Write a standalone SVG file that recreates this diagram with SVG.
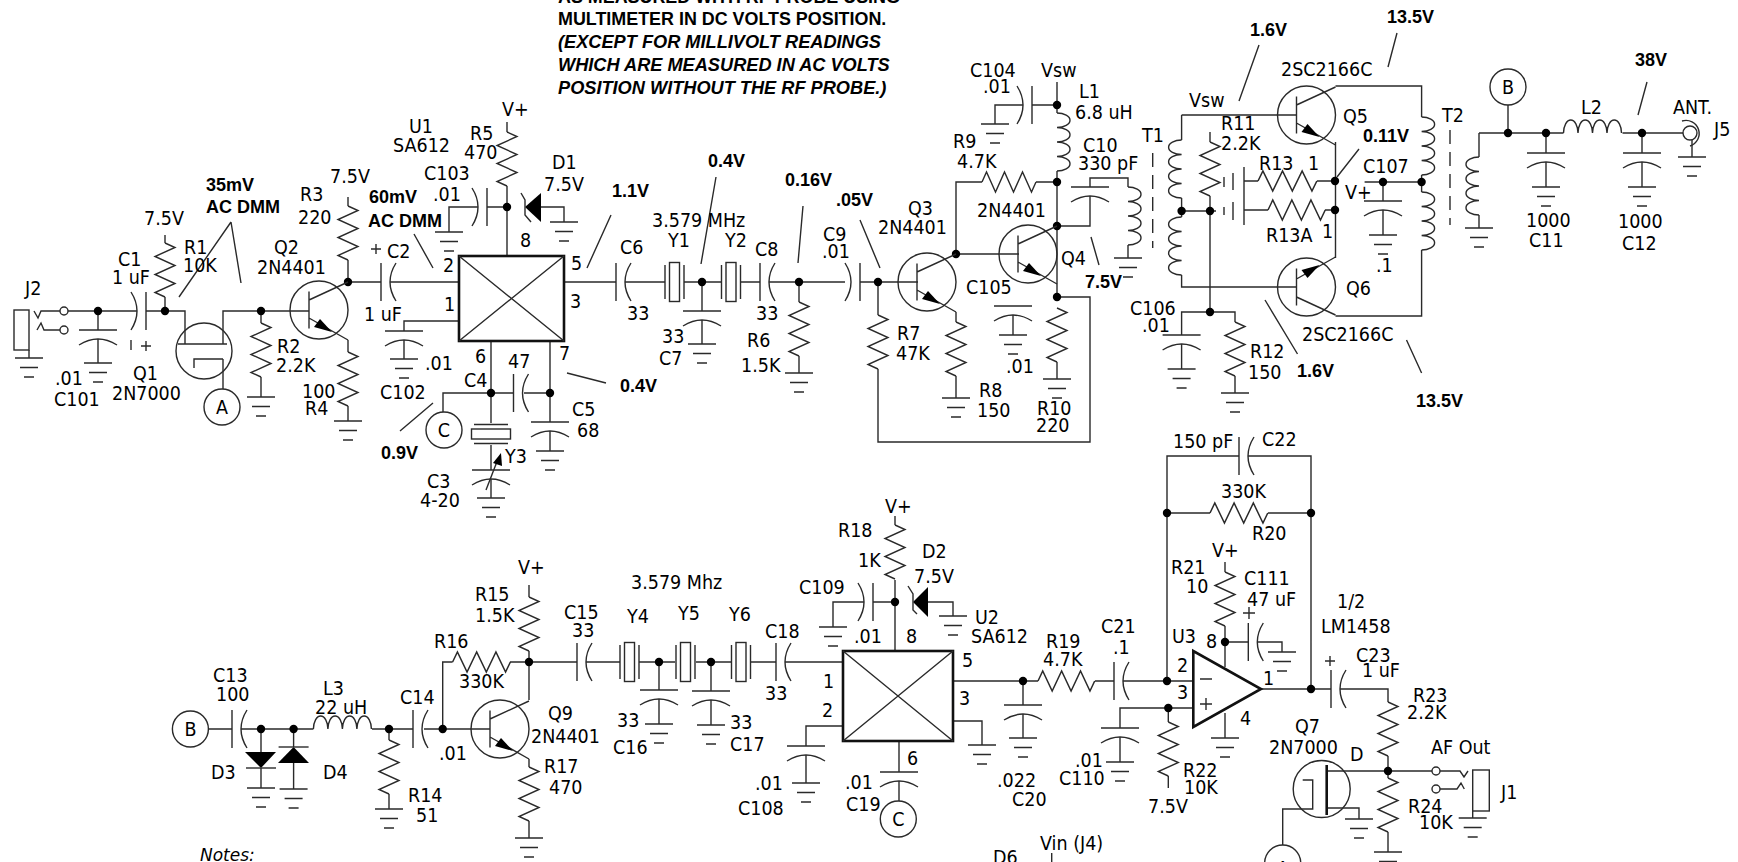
<svg xmlns="http://www.w3.org/2000/svg" width="1738" height="862" viewBox="0 0 1738 862">
<style>
.s{fill:none;stroke:#2a2a2a;stroke-width:1.4}
.k{fill:none;stroke:#111;stroke-width:2.6}
.f{fill:#000;stroke:none}
text{fill:#000;stroke:none}
.t{font-family:"DejaVu Sans Condensed","DejaVu Sans",sans-serif;font-size:19.5px}
.b{font-family:"Liberation Sans",Arial,sans-serif;font-size:18px;font-weight:bold}
.n{font-family:"Liberation Sans",Arial,sans-serif;font-size:17.9px;font-weight:bold}
.i{font-family:"Liberation Sans",Arial,sans-serif;font-size:18.2px;font-weight:bold;font-style:italic}
.m{font-family:"DejaVu Sans Condensed","DejaVu Sans",sans-serif;font-size:19.5px;text-anchor:middle}
.o{font-family:"DejaVu Sans",sans-serif;font-size:17px;font-style:italic}
</style>
<defs>
<path id="g" class="s" d="M-14,0H14M-9,9.5H9M-5,19H5"/>
<path id="c" class="s" d="M-19,0H19M-19,15Q0,3 19,15"/>
<path id="r" class="s" d="M0,0L4.5,-10L13.5,10L22.5,-10L31.5,10L40.5,-10L49.5,10L54,0"/>
<path id="l" class="s" d="M0,0a13,7.25 0 0 1 0,14.5a13,7.25 0 0 1 0,14.5a13,7.25 0 0 1 0,14.5a13,7.25 0 0 1 0,14.5"/>
<circle id="d" class="f" r="4.2"/>
<g id="y"><rect class="s" x="-5" y="-19.5" width="10" height="39"/><path class="s" d="M-9.5,-17V17M9.5,-17V17"/></g>
<g id="q"><circle class="s" r="29"/><path class="s" d="M-10,-18.5V18.5M-10,-10L29,-28M-10,8L29,30"/><path class="f" d="M13,22L-5,17L1,9Z"/></g>
</defs>

<g id="connectors" class="s">
<path d="M60,311H41L38,318L34,311M60,330H44L41,323L37,330M68,311H137M146,311H185V344M98,311V330M98,339V363M165,311V297M165,243V235M223,344V311H309M223,359V389M261,311V323M261,377V397M348,282V260M348,206V197M348,340V352M348,406V421M348,282H381M390,282H459M507,256V186M507,132V122M507,207H487M478,207H449V232M541,207H564V222M459,321H404V331M404,340V359M491,341V393H513.5M524,393H550M550,341V422M550,431V451M491,393H443V412M491,393V423M491,445V470M491,479V498"/>
<path d="M564,282H616M625,282H665M684,282H721M741,282H760M769,282H845M860,282H918M702,282V311M702,320V344M799,282V302M799,356V373M878,282V315M878,369V442H1090V297H1057M956,312V322M956,376V398M956,254H1019M956,254V182H982M1036,182H1057M1057,82V113M1057,171V297M1057,105H1032M1023,105H995V124M1057,226H1090V196M1090,187V178H1128V187M1128,245V258"/>
<path d="M1181.6,115H1297M1181.6,115V140M1181.6,198V217M1181.6,275V287H1297M1181.6,211H1216M1210,132V142M1210,196V312M1210,312H1181.6V335M1181.6,344V369M1210,312H1235V322M1235,376V393M1244,181H1258M1317,181H1335M1244,210H1268M1325,210H1335M1335.5,86H1421.6V117M1335.5,142V258M1335.5,316H1421.6V250M1421.6,175V192M1364.6,182H1421.6M1383,182V201M1383,210V235M1479,133H1508M1479,133V157M1479,215V228M1508,105V133H1563.5M1622.5,133H1683M1546,133V153M1546,162V187M1642,133V153M1642,162V187M1692,140V157"/>
<path d="M208,729H232M241,729H313.4M372,729H413M424,729H490M261,729V752M261,768V788M293.6,729V747M293.6,763V789M389,729V740M389,794V809M442.7,729V662H452.6M510,662H529M529,585V597M529,651V700M529,759V767M529,821V838M529,662H577M586,662H620M639,662H675M696,662H731M751,662H776M785,662H842M659,662V690M659,699V724M711,662V691M711,700V725"/>
<path d="M895,651V580M895,516V525M895,602H873M864,602H833V627M928,602H953V616M843,726H806V746M806,755V783M899,741V772M899,781V801M953,721H982V745M953,681H1038M1095,681H1114M1123,681H1193M1023,681V705M1023,714V738M1167,681V456H1239M1248,456H1311V689M1167,513H1210M1268,513H1311M1168.3,708H1193M1168.3,708H1120V728M1120,737V762M1168.3,708V722M1168.3,776V788M1225,562V572M1225,626V667M1225,642H1248.3M1258,642H1282V652M1225,713V738M1261,689H1331M1340,689H1388V702M1388,756V778M1388,832V852M1326.7,771H1432M1440,771H1460L1464,777L1468,771M1440,789H1457L1461,783L1464.3,789M1326.7,808H1359V819M1282.7,845V809H1312.7V780H1302.7M1472.7,811V818M1051.7,853V862"/>
</g>

<g id="leaders" class="s">
<path d="M231,222L179,297M231,222L241,283M414,234L433,268M433,403L400,431M567,373L606,383M611,215L587,268M716,177L701,264M803,206L798,263M860,220L880,268M1091,237L1099,265M1259,45L1239,101M1397,33L1388,67M1359,149L1337,177M1265,300L1297.5,354M1406.5,340L1421.6,373M1647,82L1638,115"/>
</g>

<g id="dots">
<use href="#d" x="98" y="311"/><use href="#d" x="165" y="311"/><use href="#d" x="261" y="311"/><use href="#d" x="348" y="282"/><use href="#d" x="507" y="207"/><use href="#d" x="491" y="393"/><use href="#d" x="550" y="393"/><use href="#d" x="702" y="282"/><use href="#d" x="799" y="282"/><use href="#d" x="878" y="282"/><use href="#d" x="956" y="254"/><use href="#d" x="1057" y="105"/><use href="#d" x="1057" y="182"/><use href="#d" x="1057" y="226"/><use href="#d" x="1057" y="297"/><use href="#d" x="1181.6" y="211"/><use href="#d" x="1210" y="211"/><use href="#d" x="1210" y="312"/><use href="#d" x="1335" y="181"/><use href="#d" x="1335" y="210"/><use href="#d" x="1383" y="182"/><use href="#d" x="1421.6" y="182"/><use href="#d" x="1508" y="133"/><use href="#d" x="1546" y="133"/><use href="#d" x="1642" y="133"/>
<use href="#d" x="261" y="729"/><use href="#d" x="293.6" y="729"/><use href="#d" x="389" y="729"/><use href="#d" x="442.7" y="729"/><use href="#d" x="529" y="662"/><use href="#d" x="659" y="662"/><use href="#d" x="711" y="662"/><use href="#d" x="895" y="602"/><use href="#d" x="1023" y="681"/><use href="#d" x="1167" y="681"/><use href="#d" x="1167" y="513"/><use href="#d" x="1311" y="513"/><use href="#d" x="1168.3" y="708"/><use href="#d" x="1225" y="642"/><use href="#d" x="1311" y="689"/><use href="#d" x="1388" y="771"/>
</g>

<g id="J2"><rect class="s" x="14" y="310" width="15" height="40"/><path class="s" d="M29,350V358"/><use href="#g" x="29" y="358"/><circle class="s" cx="64" cy="311" r="4"/><circle class="s" cx="64" cy="330" r="4"/><text class="t" x="25" y="295">J2</text></g>
<g id="C101"><use href="#c" x="98" y="330"/><use href="#g" x="98" y="363"/><text class="t" x="55" y="385">.01</text><text class="t" x="54" y="406">C101</text></g>
<g id="C1"><use href="#c" transform="translate(146,311) rotate(90)"/><path class="s" d="M131,340V350M146,341V351M141,346H151"/><text class="t" x="118" y="266">C1</text><text class="t" x="112" y="284">1 uF</text></g>
<g id="R1"><use href="#r" transform="translate(165,243) rotate(90)"/><text class="t" x="144" y="225">7.5V</text><text class="t" x="184" y="254">R1</text><text class="t" x="183" y="272">10K</text></g>
<g id="Q1"><circle class="s" cx="204" cy="351" r="28"/><path class="s" d="M178,344H227M194,368V359H223"/><text class="t" x="133" y="380">Q1</text><text class="t" x="112" y="400">2N7000</text></g>
<g id="A1"><circle class="s" cx="222" cy="407" r="18"/><text class="m" x="222" y="414">A</text></g>
<g id="R2"><use href="#r" transform="translate(261,323) rotate(90)"/><use href="#g" x="261" y="397"/><text class="t" x="277" y="353">R2</text><text class="t" x="276" y="372">2.2K</text></g>
<g id="Q2"><use href="#q" x="319" y="310"/><text class="t" x="274" y="254">Q2</text><text class="t" x="257" y="274">2N4401</text></g>
<g id="R3"><use href="#r" transform="translate(348,206) rotate(90)"/><text class="t" x="300" y="201">R3</text><text class="t" x="298" y="224">220</text><text class="t" x="330" y="183">7.5V</text></g>
<g id="R4"><use href="#r" transform="translate(348,352) rotate(90)"/><use href="#g" x="348" y="421"/><text class="t" x="302" y="398">100</text><text class="t" x="305" y="415">R4</text></g>
<g id="C2"><use href="#c" transform="translate(381,282) rotate(-90)"/><path class="s" d="M371,249H381M376,244V254"/><text class="t" x="387" y="258">C2</text><text class="t" x="364" y="321">1 uF</text></g>
<g id="U1"><rect class="k" x="459" y="256" width="105" height="85"/><path class="s" d="M459,256L564,341M564,256L459,341"/><text class="t" x="409" y="133">U1</text><text class="t" x="393" y="152">SA612</text><text class="t" x="520" y="247">8</text><text class="t" x="443" y="272">2</text><text class="t" x="444" y="311">1</text><text class="t" x="475" y="363">6</text><text class="t" x="559" y="360">7</text><text class="t" x="571" y="270">5</text><text class="t" x="570" y="308">3</text></g>
<g id="R5"><use href="#r" transform="translate(507,132) rotate(90)"/><text class="t" x="470" y="140">R5</text><text class="t" x="464" y="159">470</text><text class="t" x="502" y="116">V+</text></g>
<g id="D1"><path class="f" d="M525,207L541,193V222Z"/><path class="s" d="M521,193L525,200V215L531,222"/><use href="#g" x="564" y="222"/><text class="t" x="552" y="169">D1</text><text class="t" x="544" y="191">7.5V</text></g>
<g id="C103"><use href="#c" transform="translate(487,207) rotate(90)"/><use href="#g" x="449" y="232"/><text class="t" x="424" y="180">C103</text><text class="t" x="433" y="201">.01</text></g>
<g id="C102"><use href="#c" x="404" y="331"/><use href="#g" x="404" y="359"/><text class="t" x="425" y="370">.01</text><text class="t" x="380" y="399">C102</text></g>
<g id="C4"><use href="#c" transform="translate(513.5,393) rotate(-90)"/><text class="t" x="464" y="387">C4</text><text class="t" x="508" y="368">47</text></g>
<g id="C1node"><circle class="s" cx="444" cy="430" r="18"/><text class="m" x="444" y="437">C</text></g>
<g id="C5"><use href="#c" x="550" y="422"/><use href="#g" x="550" y="451"/><text class="t" x="572" y="416">C5</text><text class="t" x="577" y="437">68</text></g>
<g id="Y3"><use href="#y" transform="translate(491,434) rotate(90)"/><text class="t" x="505" y="463">Y3</text></g>
<g id="C3"><use href="#c" x="491" y="470"/><use href="#g" x="491" y="498"/><path class="s" d="M486,490L498,459"/><path class="f" d="M501,453L502,466L493,463Z"/><text class="t" x="427" y="488">C3</text><text class="t" x="420" y="507">4-20</text></g>
<g id="C6"><use href="#c" transform="translate(616,282) rotate(-90)"/><text class="t" x="620" y="254">C6</text><text class="t" x="627" y="320">33</text></g>
<g id="Y1"><use href="#y" x="674.5" y="282"/><text class="t" x="668" y="247">Y1</text><text class="t" x="652" y="227">3.579 MHz</text></g>
<g id="Y2"><use href="#y" x="731" y="282"/><text class="t" x="725" y="247">Y2</text></g>
<g id="C7"><use href="#c" x="702" y="311"/><use href="#g" x="702" y="344"/><text class="t" x="662" y="343">33</text><text class="t" x="659" y="365">C7</text></g>
<g id="C8"><use href="#c" transform="translate(760,282) rotate(-90)"/><text class="t" x="755" y="256">C8</text><text class="t" x="756" y="320">33</text></g>
<g id="R6"><use href="#r" transform="translate(799,302) rotate(90)"/><use href="#g" x="799" y="373"/><text class="t" x="747" y="347">R6</text><text class="t" x="741" y="372">1.5K</text></g>
<g id="C9"><use href="#c" transform="translate(860,282) rotate(90)"/><text class="t" x="823" y="241">C9</text><text class="t" x="822" y="258">.01</text></g>
<g id="Q3"><use href="#q" x="927" y="282"/><text class="t" x="908" y="215">Q3</text><text class="t" x="878" y="234">2N4401</text></g>
<g id="R7"><use href="#r" transform="translate(878,315) rotate(90)"/><text class="t" x="897" y="340">R7</text><text class="t" x="896" y="360">47K</text></g>
<g id="R8"><use href="#r" transform="translate(956,322) rotate(90)"/><use href="#g" x="956" y="398"/><text class="t" x="979" y="397">R8</text><text class="t" x="977" y="417">150</text></g>
<g id="R9"><use href="#r" x="982" y="182"/><text class="t" x="953" y="148">R9</text><text class="t" x="957" y="168">4.7K</text></g>
<g id="Q4"><use href="#q" x="1028" y="254"/><text class="t" x="977" y="217">2N4401</text><text class="t" x="1061" y="265">Q4</text></g>
<g id="C104"><use href="#c" transform="translate(1032,105) rotate(90)"/><use href="#g" x="995" y="124"/><text class="t" x="970" y="77">C104</text><text class="t" x="983" y="93">.01</text><text class="t" x="1041" y="77">Vsw</text></g>
<g id="L1"><use href="#l" x="1057" y="113"/><text class="t" x="1079" y="98">L1</text><text class="t" x="1075" y="119">6.8 uH</text></g>
<g id="C10"><use href="#c" x="1090" y="187"/><text class="t" x="1083" y="152">C10</text><text class="t" x="1078" y="170">330 pF</text></g>
<g id="C105"><use href="#c" x="1013" y="306"/><path class="s" d="M1013,315V335"/><use href="#g" x="1013" y="335"/><text class="t" x="966" y="294">C105</text><text class="t" x="1006" y="373">.01</text></g>
<g id="R10"><use href="#r" transform="translate(1057,308) rotate(90)"/><path class="s" d="M1057,362V379"/><use href="#g" x="1057" y="379"/><text class="t" x="1037" y="415">R10</text><text class="t" x="1036" y="432">220</text></g>
<g id="T1"><use href="#l" x="1128" y="187"/><use href="#g" x="1128" y="258"/><path class="s" stroke-dasharray="14 8" d="M1152.7,153V248"/><use href="#l" transform="translate(1181.6,140) scale(-1,1)"/><use href="#l" transform="translate(1181.6,217) scale(-1,1)"/><text class="t" x="1142" y="142">T1</text></g>
<g id="R11"><use href="#r" transform="translate(1210,142) rotate(90)"/><text class="t" x="1221" y="130">R11</text><text class="t" x="1221" y="150">2.2K</text><text class="t" x="1189" y="107">Vsw</text></g>
<g id="C13x"><path class="s" d="M1244,167V225M1233,173V190M1224,177V187M1233,202V220M1224,207V215"/></g>
<g id="R13"><use href="#r" transform="translate(1258,181) scale(1.09,1)"/><text class="t" x="1259" y="170">R13</text><text class="t" x="1308" y="170">1</text></g>
<g id="R13A"><use href="#r" transform="translate(1268,210) scale(1.06,1)"/><text class="t" x="1266" y="242">R13A</text><text class="t" x="1322" y="238">1</text></g>
<g id="Q5"><use href="#q" x="1306.5" y="115"/><text class="t" x="1343" y="123">Q5</text><text class="t" x="1281" y="76">2SC2166C</text></g>
<g id="Q6"><use href="#q" transform="translate(1306.5,287) scale(1,-1)"/><text class="t" x="1346" y="295">Q6</text><text class="t" x="1302" y="341">2SC2166C</text></g>
<g id="C106"><use href="#c" x="1181.6" y="335"/><use href="#g" x="1181.6" y="369"/><text class="t" x="1130" y="315">C106</text><text class="t" x="1142" y="332">.01</text></g>
<g id="R12"><use href="#r" transform="translate(1235,322) rotate(90)"/><use href="#g" x="1235" y="393"/><text class="t" x="1250" y="358">R12</text><text class="t" x="1248" y="379">150</text></g>
<g id="C107"><use href="#c" x="1383" y="201"/><use href="#g" x="1383" y="235"/><text class="t" x="1363" y="173">C107</text><text class="t" x="1345" y="199">V+</text><text class="t" x="1376" y="272">.1</text></g>
<g id="T2"><use href="#l" x="1421.6" y="117"/><use href="#l" x="1421.6" y="192"/><path class="s" stroke-dasharray="14 8" d="M1450,130V225"/><use href="#l" transform="translate(1479,157) scale(-1,1)"/><use href="#g" x="1479" y="228"/><text class="t" x="1442" y="122">T2</text></g>
<g id="B1"><circle class="s" cx="1508" cy="87" r="18"/><text class="m" x="1508" y="94">B</text></g>
<g id="C11"><use href="#c" x="1546" y="153"/><use href="#g" x="1546" y="187"/><text class="t" x="1526" y="227">1000</text><text class="t" x="1529" y="247">C11</text></g>
<g id="L2"><use href="#l" transform="translate(1563.5,133) rotate(-90)"/><text class="t" x="1581" y="114">L2</text></g>
<g id="C12"><use href="#c" x="1642" y="153"/><use href="#g" x="1642" y="187"/><text class="t" x="1618" y="228">1000</text><text class="t" x="1622" y="250">C12</text></g>
<g id="J5"><circle class="s" cx="1690" cy="133" r="7"/><path class="s" d="M1682,121A13,13 0 1 1 1690,146"/><use href="#g" x="1692" y="157"/><text class="t" x="1673" y="114">ANT.</text><text class="t" x="1714" y="136">J5</text></g>

<g id="note-top">
<text class="n" x="558" y="3">AS MEASURED WITH RF PROBE USING</text>
<text class="n" x="558" y="25">MULTIMETER IN DC VOLTS POSITION.</text>
<text class="i" x="558" y="48">(EXCEPT FOR MILLIVOLT READINGS</text>
<text class="i" x="558" y="71">WHICH ARE MEASURED IN AC VOLTS</text>
<text class="i" x="558" y="94">POSITION WITHOUT THE RF PROBE.)</text>
</g>
<g id="voltages">
<text class="b" x="206" y="191">35mV</text><text class="b" x="206" y="213">AC DMM</text><text class="b" x="369" y="203">60mV</text><text class="b" x="368" y="227">AC DMM</text><text class="b" x="381" y="459">0.9V</text><text class="b" x="620" y="392">0.4V</text><text class="b" x="612" y="197">1.1V</text><text class="b" x="708" y="167">0.4V</text><text class="b" x="785" y="186">0.16V</text><text class="b" x="836" y="206">.05V</text><text class="b" x="1085" y="288">7.5V</text><text class="b" x="1250" y="36">1.6V</text><text class="b" x="1387" y="23">13.5V</text><text class="b" x="1363" y="142">0.11V</text><text class="b" x="1297" y="377">1.6V</text><text class="b" x="1416" y="407">13.5V</text><text class="b" x="1635" y="66">38V</text>
</g>

<g id="B2"><circle class="s" cx="190.4" cy="729" r="18"/><text class="m" x="190.4" y="736">B</text></g>
<g id="C13"><use href="#c" transform="translate(232,729) rotate(-90)"/><text class="t" x="213" y="682">C13</text><text class="t" x="216" y="701">100</text></g>
<g id="D3"><path class="f" d="M245,752H276L261,768Z"/><path class="s" d="M246,768H276"/><use href="#g" x="261" y="788"/><text class="t" x="211" y="779">D3</text></g>
<g id="D4"><path class="f" d="M278,763H309L293.6,747Z"/><path class="s" d="M278.6,747H308.6"/><use href="#g" x="293.6" y="789"/><text class="t" x="323" y="779">D4</text></g>
<g id="L3"><use href="#l" transform="translate(313.4,729) rotate(-90)"/><text class="t" x="323" y="695">L3</text><text class="t" x="315" y="714">22 uH</text></g>
<g id="R14"><use href="#r" transform="translate(389,740) rotate(90)"/><use href="#g" x="389" y="809"/><text class="t" x="408" y="802">R14</text><text class="t" x="416" y="822">51</text></g>
<g id="C14"><use href="#c" transform="translate(413,729) rotate(-90)"/><text class="t" x="400" y="704">C14</text><text class="t" x="439" y="760">.01</text></g>
<g id="Q9"><use href="#q" x="500" y="729"/><text class="t" x="548" y="720">Q9</text><text class="t" x="531" y="743">2N4401</text></g>
<g id="R15"><use href="#r" transform="translate(529,597) rotate(90)"/><text class="t" x="518" y="574">V+</text><text class="t" x="475" y="601">R15</text><text class="t" x="475" y="622">1.5K</text></g>
<g id="R16"><use href="#r" transform="translate(452.6,662) scale(1.07,1)"/><text class="t" x="434" y="648">R16</text><text class="t" x="459" y="688">330K</text></g>
<g id="R17"><use href="#r" transform="translate(529,767) rotate(90)"/><use href="#g" x="529" y="838"/><text class="t" x="544" y="773">R17</text><text class="t" x="549" y="794">470</text></g>
<g id="C15"><use href="#c" transform="translate(577,662) rotate(-90)"/><text class="t" x="564" y="619">C15</text><text class="t" x="572" y="637">33</text></g>
<g id="Y4"><use href="#y" x="629.5" y="662"/><text class="t" x="627" y="623">Y4</text><text class="t" x="631" y="589">3.579 Mhz</text></g>
<g id="Y5"><use href="#y" x="685.5" y="662"/><text class="t" x="678" y="620">Y5</text></g>
<g id="Y6"><use href="#y" x="741" y="662"/><text class="t" x="729" y="621">Y6</text></g>
<g id="C16"><use href="#c" x="659" y="690"/><use href="#g" x="659" y="724"/><text class="t" x="617" y="727">33</text><text class="t" x="613" y="754">C16</text></g>
<g id="C17"><use href="#c" x="711" y="691"/><use href="#g" x="711" y="725"/><text class="t" x="730" y="729">33</text><text class="t" x="730" y="751">C17</text></g>
<g id="C18"><use href="#c" transform="translate(776,662) rotate(-90)"/><text class="t" x="765" y="638">C18</text><text class="t" x="765" y="700">33</text></g>
<g id="U2"><rect class="k" x="843" y="651" width="110" height="90"/><path class="s" d="M843,651L953,741M953,651L843,741"/><text class="t" x="975" y="624">U2</text><text class="t" x="971" y="643">SA612</text><text class="t" x="906" y="643">8</text><text class="t" x="823" y="688">1</text><text class="t" x="822" y="717">2</text><text class="t" x="962" y="667">5</text><text class="t" x="959" y="705">3</text><text class="t" x="907" y="765">6</text><use href="#g" x="982" y="745"/></g>
<g id="R18"><use href="#r" transform="translate(895,525) rotate(90)"/><text class="t" x="885" y="513">V+</text><text class="t" x="838" y="537">R18</text><text class="t" x="858" y="567">1K</text></g>
<g id="D2"><path class="f" d="M913,602L928,587V617Z"/><path class="s" d="M908,586L913,594V610L917,614"/><use href="#g" x="953" y="616"/><text class="t" x="922" y="558">D2</text><text class="t" x="914" y="583">7.5V</text></g>
<g id="C109"><use href="#c" transform="translate(873,602) rotate(90)"/><use href="#g" x="833" y="627"/><text class="t" x="799" y="594">C109</text><text class="t" x="854" y="643">.01</text></g>
<g id="C108"><use href="#c" x="806" y="746"/><use href="#g" x="806" y="783"/><text class="t" x="755" y="790">.01</text><text class="t" x="738" y="815">C108</text></g>
<g id="C19"><use href="#c" x="899" y="772"/><text class="t" x="845" y="789">.01</text><text class="t" x="846" y="811">C19</text></g>
<g id="C2node"><circle class="s" cx="898.3" cy="819" r="18"/><text class="m" x="898.3" y="826">C</text></g>
<g id="R19"><use href="#r" transform="translate(1038,681) scale(1.05,1)"/><text class="t" x="1046" y="648">R19</text><text class="t" x="1043" y="666">4.7K</text></g>
<g id="C20"><use href="#c" x="1023" y="705"/><use href="#g" x="1023" y="738"/><text class="t" x="997" y="787">.022</text><text class="t" x="1012" y="806">C20</text></g>
<g id="C21"><use href="#c" transform="translate(1114,681) rotate(-90)"/><text class="t" x="1101" y="633">C21</text><text class="t" x="1113" y="654">.1</text></g>
<g id="C110"><use href="#c" x="1120" y="728"/><use href="#g" x="1120" y="762"/><text class="t" x="1075" y="767">.01</text><text class="t" x="1059" y="785">C110</text></g>
<g id="R22"><use href="#r" transform="translate(1168.3,722) rotate(90)"/><text class="t" x="1183" y="777">R22</text><text class="t" x="1184" y="794">10K</text><text class="t" x="1148" y="813">7.5V</text></g>
<g id="U3"><path class="k" d="M1193.3,651V727L1261,689Z"/><path class="s" d="M1200,679H1212M1200,704H1212M1206,698V710"/><use href="#g" x="1225" y="738"/><text class="t" x="1172" y="643">U3</text><text class="t" x="1177" y="672">2</text><text class="t" x="1177" y="699">3</text><text class="t" x="1206" y="648">8</text><text class="t" x="1263" y="685">1</text><text class="t" x="1240" y="725">4</text><text class="t" x="1337" y="608">1/2</text><text class="t" x="1321" y="633">LM1458</text></g>
<g id="C22"><use href="#c" transform="translate(1239,456) rotate(-90)"/><text class="t" x="1173" y="448">150 pF</text><text class="t" x="1262" y="446">C22</text></g>
<g id="R20"><use href="#r" transform="translate(1210,513) scale(1.07,1)"/><text class="t" x="1221" y="498">330K</text><text class="t" x="1252" y="540">R20</text></g>
<g id="R21"><use href="#r" transform="translate(1225,572) rotate(90)"/><text class="t" x="1212" y="557">V+</text><text class="t" x="1171" y="574">R21</text><text class="t" x="1186" y="593">10</text></g>
<g id="C111"><use href="#c" transform="translate(1248.3,642) rotate(-90)"/><path class="s" d="M1243,613H1255M1249,607V619"/><use href="#g" x="1282" y="652"/><text class="t" x="1244" y="585">C111</text><text class="t" x="1247" y="606">47 uF</text></g>
<g id="C23"><use href="#c" transform="translate(1331,689) rotate(-90)"/><path class="s" d="M1325,661H1335M1330,656V666"/><text class="t" x="1356" y="662">C23</text><text class="t" x="1362" y="677">1 uF</text></g>
<g id="R23"><use href="#r" transform="translate(1388,702) rotate(90)"/><text class="t" x="1413" y="702">R23</text><text class="t" x="1407" y="719">2.2K</text></g>
<g id="R24"><use href="#r" transform="translate(1388,778) rotate(90)"/><use href="#g" x="1388" y="852"/><text class="t" x="1408" y="813">R24</text><text class="t" x="1419" y="829">10K</text></g>
<g id="Q7"><circle class="s" cx="1321.7" cy="789" r="28.5"/><path class="k" d="M1326.7,765V815"/><use href="#g" x="1359" y="819"/><text class="t" x="1295" y="733">Q7</text><text class="t" x="1269" y="754">2N7000</text><text class="t" x="1350" y="761">D</text></g>
<g id="A2"><circle class="s" cx="1282.7" cy="863" r="18"/><text class="m" x="1282.7" y="875">A</text></g>
<g id="J1"><circle class="s" cx="1436" cy="771" r="4"/><circle class="s" cx="1436" cy="789" r="4"/><rect class="s" x="1472.7" y="770" width="16.6" height="41"/><use href="#g" x="1472.7" y="818"/><text class="t" x="1431" y="754">AF Out</text><text class="t" x="1501" y="799">J1</text></g>
<g id="notes"><text class="o" x="200" y="861">Notes:</text><text class="t" x="993" y="864">D6</text><text class="t" x="1040" y="850">Vin (J4)</text></g>
</svg>
